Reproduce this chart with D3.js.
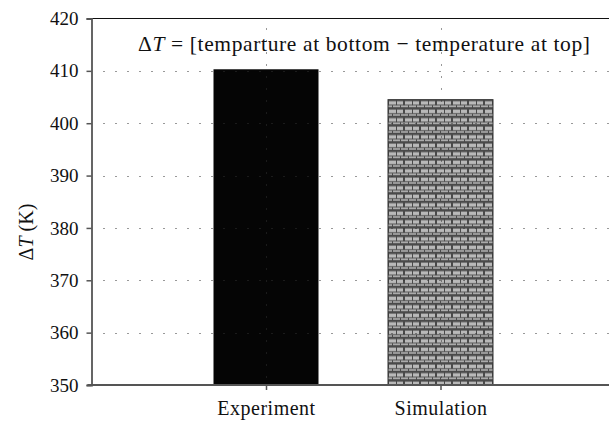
<!DOCTYPE html>
<html>
<head>
<meta charset="utf-8">
<script src="https://cdn.jsdelivr.net/npm/d3@7"></script>
<style>
  html, body { margin: 0; padding: 0; background: #fff; }
  svg { display: block; }
  text { fill: #111; }
</style>
</head>
<body>
<svg id="chart" width="609" height="421"></svg>
<script>
// Data
const categories = ["Experiment", "Simulation"];
const deltaT = [410.3, 404.5];
const yTicks = [350, 360, 370, 380, 390, 400, 410, 420];

const SERIF = "'Liberation Serif', 'Tinos', 'Times New Roman', 'DejaVu Serif', serif";
const W = 609, H = 421;
const margin = { left: 91.5, right: -6, top: 18.5, bottom: 36 };
const svg = d3.select("#chart");

// Three equal slots: categories sit at the 1st and 2nd inner points
const xSlots = d3.scalePoint().domain(["_start", ...categories, "_end"])
  .range([margin.left, W - margin.right]);
const y = d3.scaleLinear().domain([350, 420]).range([H - margin.bottom, margin.top]);
const barW = 105;

// Brick fill pattern
const defs = svg.append("defs");
const pat = defs.append("pattern").attr("id", "brick")
  .attr("patternUnits", "userSpaceOnUse")
  .attr("width", 16).attr("height", 8.5)
  .attr("x", xSlots("Simulation") - barW / 2).attr("y", y(deltaT[1]));
pat.append("rect").attr("width", 16).attr("height", 8.5).attr("fill", "#4a4a4a");
[[1, 1.5, 7, 3.5], [9, 1.5, 6, 3.5], [5, 6, 7, 1.5], [13, 6, 3, 1.5], [0, 6, 4, 1.5]]
  .forEach(([bx, by, bw, bh]) =>
    pat.append("rect").attr("x", bx).attr("y", by).attr("width", bw).attr("height", bh)
      .attr("fill", "#b9b9b9"));

// Bars
svg.append("g").selectAll("rect").data(categories).join("rect")
  .attr("x", d => xSlots(d) - barW / 2)
  .attr("y", (d, i) => y(deltaT[i]))
  .attr("width", barW)
  .attr("height", (d, i) => y(350) - y(deltaT[i]))
  .attr("fill", (d, i) => i === 0 ? "#050505" : "url(#brick)")
  .attr("stroke", (d, i) => i === 0 ? "none" : "#333")
  .attr("stroke-width", 1);

// Dotted grid lines
const grid = svg.append("g").attr("stroke", "#333").attr("stroke-width", 1)
  .attr("stroke-dasharray", "1,11");
grid.selectAll("line.h").data(yTicks.filter(t => t > 350 && t < 420)).join("line")
  .attr("class", "h")
  .attr("x1", margin.left + 12).attr("x2", W)
  .attr("y1", d => Math.round(y(d)) + 0.5).attr("y2", d => Math.round(y(d)) + 0.5);
grid.selectAll("line.v").data(categories).join("line")
  .attr("class", "v")
  .attr("x1", d => Math.round(xSlots(d)) + 0.5).attr("x2", d => Math.round(xSlots(d)) + 0.5)
  .attr("y1", margin.top + 10).attr("y2", H - margin.bottom);

// Top frame line
svg.append("line")
  .attr("x1", margin.left).attr("x2", W)
  .attr("y1", margin.top).attr("y2", margin.top)
  .attr("stroke", "#111").attr("stroke-width", 1.2);

// Y axis
const yAxis = svg.append("g")
  .attr("transform", `translate(${margin.left},0)`)
  .call(d3.axisLeft(y).tickValues(yTicks).tickSize(5).tickPadding(8).tickFormat(d3.format("d")))
  .attr("font-family", SERIF).attr("font-size", 19);
yAxis.select(".domain").attr("stroke", "#555").attr("stroke-width", 1.8);
yAxis.selectAll(".tick line").attr("stroke", "#555").attr("stroke-width", 1.5);
yAxis.selectAll(".tick text").attr("fill", "#111");

// X axis
const xAxis = svg.append("g")
  .attr("transform", `translate(0,${H - margin.bottom})`)
  .call(d3.axisBottom(xSlots).tickValues(categories).tickSize(5).tickPadding(11).tickSizeOuter(0))
  .attr("font-family", SERIF).attr("font-size", 20);
xAxis.select(".domain").attr("stroke", "#555").attr("stroke-width", 1.8)
  .attr("d", `M${margin.left - 4},0H${W}`);
xAxis.selectAll(".tick line").attr("stroke", "#555").attr("stroke-width", 1.5);
xAxis.selectAll(".tick text").attr("fill", "#111").attr("letter-spacing", 0.5);

// Y axis title
const yTitle = svg.append("text")
  .attr("transform", "translate(33,232) rotate(-90)")
  .attr("text-anchor", "middle")
  .attr("font-family", SERIF).attr("font-size", 20);
yTitle.append("tspan").text("Δ");
yTitle.append("tspan").style("font-style", "italic").text("T");
yTitle.append("tspan").text(" (K)");

// Formula annotation
const note = svg.append("text")
  .attr("x", 364).attr("y", 51)
  .attr("text-anchor", "middle")
  .attr("font-family", SERIF).attr("font-size", 21.5)
  .attr("textLength", 452).attr("lengthAdjust", "spacing");
note.append("tspan").text("Δ");
note.append("tspan").style("font-style", "italic").text("T");
note.append("tspan").text(" = [temparture at bottom − temperature at top]");
</script>
</body>
</html>
